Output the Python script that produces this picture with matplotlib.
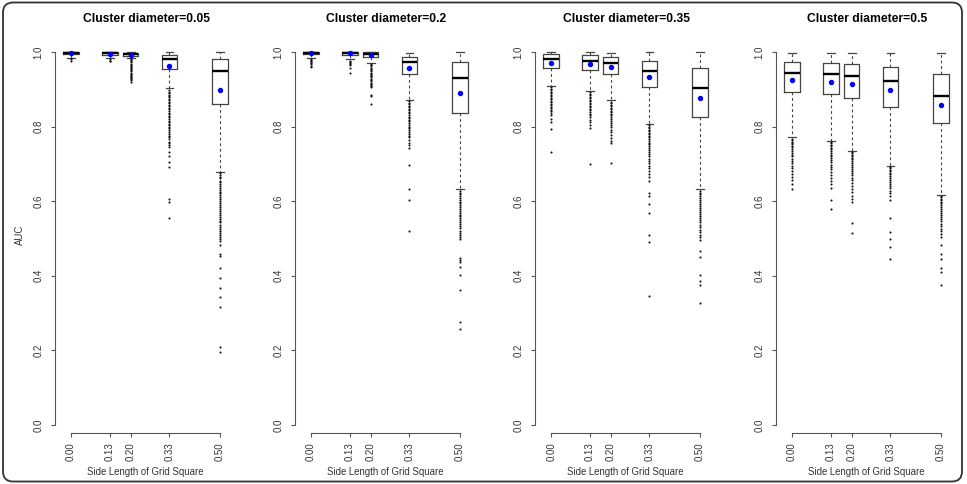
import matplotlib
matplotlib.use('Agg')
import matplotlib.pyplot as plt
from matplotlib.patches import FancyBboxPatch

plt.rcParams['font.family'] = ['Liberation Sans', 'DejaVu Sans']

positions = [0.00, 0.13, 0.20, 0.33, 0.50]
tick_labels = ['0.00', '0.13', '0.20', '0.33', '0.50']
diameters = ['0.05', '0.2', '0.35', '0.5']
yticks = [0.0, 0.2, 0.4, 0.6, 0.8, 1.0]
ytick_labels = ['0.0', '0.2', '0.4', '0.6', '0.8', '1.0']

# cluster diameter = 0.05
lo_005 = [0.984, 0.983, 0.984, 0.903, 0.679]
q1_005 = [0.994, 0.993, 0.990, 0.955, 0.861]
med_005 = [0.997, 0.997, 0.995, 0.980, 0.949]
q3_005 = [0.999, 0.999, 0.998, 0.993, 0.980]
hi_005 = [1.000, 1.000, 1.000, 0.999, 1.000]
mean_005 = [0.996, 0.995, 0.993, 0.962, 0.898]
out_005 = [
    [0.983, 0.980, 0.977],
    [0.980, 0.977, 0.975],
    [0.981, 0.978, 0.975, 0.972, 0.969, 0.966, 0.963, 0.960, 0.957, 0.954, 0.951,
     0.948, 0.945, 0.942, 0.939, 0.936, 0.933, 0.930, 0.927, 0.924, 0.920],
    [0.898, 0.894, 0.890, 0.886, 0.882, 0.878, 0.874, 0.870, 0.866, 0.862, 0.858,
     0.854, 0.850, 0.846, 0.842, 0.837, 0.833, 0.829, 0.825, 0.821, 0.816, 0.812,
     0.808, 0.803, 0.799, 0.795, 0.790, 0.785, 0.781, 0.776, 0.771, 0.766, 0.760,
     0.755, 0.750, 0.745, 0.733, 0.720, 0.705, 0.692, 0.605, 0.599, 0.554],
    [0.675, 0.670, 0.666, 0.661, 0.655, 0.651, 0.646, 0.640, 0.636, 0.631, 0.625,
     0.621, 0.616, 0.610, 0.606, 0.600, 0.595, 0.590, 0.584, 0.580, 0.574, 0.569,
     0.564, 0.558, 0.553, 0.548, 0.543, 0.537, 0.532, 0.526, 0.521, 0.515, 0.510,
     0.504, 0.498, 0.492, 0.483, 0.458, 0.453, 0.422, 0.395, 0.368, 0.344, 0.316,
     0.210, 0.195],
]

# cluster diameter = 0.2
lo_02 = [0.985, 0.980, 0.971, 0.871, 0.632]
q1_02 = [0.995, 0.991, 0.986, 0.941, 0.836]
med_02 = [0.998, 0.996, 0.994, 0.972, 0.929]
q3_02 = [1.000, 0.999, 0.999, 0.987, 0.972]
hi_02 = [1.000, 1.000, 1.000, 0.998, 0.999]
mean_02 = [0.998, 0.996, 0.993, 0.956, 0.889]
out_02 = [
    [0.982, 0.979, 0.976, 0.973, 0.970, 0.967, 0.963, 0.959],
    [0.977, 0.974, 0.971, 0.968, 0.965, 0.957, 0.945],
    [0.968, 0.965, 0.962, 0.958, 0.955, 0.952, 0.948, 0.945, 0.942, 0.938, 0.935,
     0.932, 0.928, 0.925, 0.921, 0.918, 0.914, 0.911, 0.908, 0.905, 0.886, 0.881,
     0.861],
    [0.868, 0.864, 0.860, 0.856, 0.852, 0.848, 0.844, 0.840, 0.836, 0.831, 0.827,
     0.823, 0.818, 0.814, 0.810, 0.805, 0.800, 0.796, 0.791, 0.786, 0.781, 0.776,
     0.771, 0.764, 0.757, 0.750, 0.742, 0.697, 0.632, 0.603, 0.520],
    [0.628, 0.623, 0.618, 0.614, 0.609, 0.604, 0.599, 0.594, 0.589, 0.584, 0.579,
     0.574, 0.569, 0.564, 0.559, 0.554, 0.549, 0.544, 0.538, 0.533, 0.527, 0.521,
     0.515, 0.509, 0.503, 0.498, 0.447, 0.442, 0.437, 0.424, 0.402, 0.362, 0.277,
     0.257],
]

# cluster diameter = 0.35
lo_035 = [0.909, 0.896, 0.871, 0.807, 0.632]
q1_035 = [0.958, 0.951, 0.941, 0.907, 0.827]
med_035 = [0.981, 0.977, 0.971, 0.949, 0.903]
q3_035 = [0.994, 0.991, 0.987, 0.977, 0.956]
hi_035 = [1.000, 0.999, 0.998, 0.999, 0.999]
mean_035 = [0.971, 0.967, 0.961, 0.932, 0.876]
out_035 = [
    [0.905, 0.901, 0.897, 0.893, 0.889, 0.885, 0.881, 0.877, 0.873, 0.869, 0.865,
     0.861, 0.857, 0.853, 0.849, 0.845, 0.841, 0.836, 0.830, 0.820, 0.812, 0.793,
     0.733],
    [0.892, 0.888, 0.884, 0.880, 0.876, 0.872, 0.868, 0.864, 0.860, 0.856, 0.852,
     0.848, 0.844, 0.840, 0.835, 0.830, 0.825, 0.819, 0.812, 0.805, 0.795, 0.701],
    [0.867, 0.863, 0.859, 0.855, 0.851, 0.847, 0.843, 0.839, 0.835, 0.830, 0.825,
     0.820, 0.815, 0.810, 0.804, 0.798, 0.792, 0.785, 0.777, 0.769, 0.761, 0.755,
     0.703],
    [0.804, 0.800, 0.796, 0.792, 0.788, 0.784, 0.780, 0.776, 0.771, 0.767, 0.762,
     0.757, 0.752, 0.747, 0.742, 0.737, 0.731, 0.726, 0.720, 0.714, 0.708, 0.702,
     0.695, 0.688, 0.680, 0.672, 0.664, 0.655, 0.623, 0.613, 0.592, 0.569, 0.509,
     0.491, 0.346],
    [0.628, 0.623, 0.618, 0.613, 0.608, 0.603, 0.598, 0.593, 0.588, 0.583, 0.577,
     0.572, 0.566, 0.561, 0.555, 0.549, 0.543, 0.537, 0.531, 0.524, 0.517, 0.510,
     0.503, 0.496, 0.467, 0.451, 0.402, 0.387, 0.375, 0.328],
]

# cluster diameter = 0.5
lo_05 = [0.771, 0.762, 0.735, 0.695, 0.617]
q1_05 = [0.893, 0.888, 0.876, 0.853, 0.810]
med_05 = [0.943, 0.940, 0.935, 0.922, 0.882]
q3_05 = [0.974, 0.971, 0.969, 0.959, 0.941]
hi_05 = [0.998, 0.998, 0.998, 0.998, 0.998]
mean_05 = [0.924, 0.920, 0.914, 0.898, 0.859]
out_05 = [
    [0.768, 0.764, 0.760, 0.756, 0.752, 0.748, 0.744, 0.740, 0.735, 0.730, 0.725,
     0.720, 0.714, 0.708, 0.702, 0.695, 0.688, 0.680, 0.672, 0.664, 0.657, 0.647,
     0.632],
    [0.759, 0.755, 0.751, 0.747, 0.743, 0.739, 0.735, 0.730, 0.725, 0.720, 0.715,
     0.710, 0.704, 0.698, 0.692, 0.685, 0.678, 0.670, 0.662, 0.654, 0.645, 0.636,
     0.603, 0.578],
    [0.732, 0.728, 0.724, 0.720, 0.716, 0.712, 0.707, 0.702, 0.697, 0.692, 0.687,
     0.681, 0.675, 0.669, 0.663, 0.656, 0.649, 0.641, 0.633, 0.624, 0.615, 0.606,
     0.599, 0.541, 0.514],
    [0.692, 0.688, 0.684, 0.680, 0.676, 0.672, 0.667, 0.662, 0.657, 0.652, 0.647,
     0.641, 0.635, 0.628, 0.621, 0.613, 0.603, 0.554, 0.517, 0.498, 0.478, 0.444],
    [0.614, 0.610, 0.606, 0.602, 0.598, 0.594, 0.589, 0.584, 0.579, 0.574, 0.569,
     0.564, 0.558, 0.552, 0.546, 0.540, 0.533, 0.526, 0.519, 0.511, 0.503, 0.483,
     0.458, 0.444, 0.420, 0.410, 0.375],
]

panels = [
    (lo_005, q1_005, med_005, q3_005, hi_005, mean_005, out_005),
    (lo_02, q1_02, med_02, q3_02, hi_02, mean_02, out_02),
    (lo_035, q1_035, med_035, q3_035, hi_035, mean_035, out_035),
    (lo_05, q1_05, med_05, q3_05, hi_05, mean_05, out_05),
]

fig = plt.figure(figsize=(9.67, 4.84), dpi=100)
lefts = [0.0569, 0.3051, 0.5533, 0.8025]
edge = '#444444'

for i, (lo, q1, med, q3, hi, mean, out) in enumerate(panels):
    ax = fig.add_axes([lefts[i], 0.1054, 0.1892, 0.818])
    stats = []
    for j in range(len(positions)):
        stats.append(dict(whislo=lo[j], q1=q1[j], med=med[j], q3=q3[j],
                          whishi=hi[j], mean=mean[j], fliers=out[j]))
    ax.bxp(stats, positions=positions, widths=0.052, capwidths=0.026,
           showmeans=True, showfliers=True,
           boxprops=dict(color=edge, lw=0.9),
           medianprops=dict(color='black', lw=1.7),
           whiskerprops=dict(color=edge, lw=0.8, linestyle=(0, (2.5, 2.5))),
           capprops=dict(color=edge, lw=0.9),
           flierprops=dict(marker='o', markersize=1.5, markerfacecolor='#111111',
                           markeredgewidth=0, linestyle='none'),
           meanprops=dict(marker='o', markersize=2.9, markerfacecolor='blue',
                          markeredgecolor='blue'))

    ax.set_xlim(-0.054, 0.56)
    ax.set_ylim(-0.0215, 1.04)
    ax.spines['top'].set_visible(False)
    ax.spines['right'].set_visible(False)
    ax.spines['left'].set_bounds(0, 1)
    ax.spines['bottom'].set_bounds(0, 0.5)
    for s in ['left', 'bottom']:
        ax.spines[s].set_color('#555555')
        ax.spines[s].set_linewidth(0.8)

    ax.set_xticks(positions, tick_labels, rotation=90)
    ax.set_yticks(yticks, ytick_labels, rotation=90, va='center')
    ax.tick_params(direction='out', length=3, width=0.8, color='#555555',
                   labelsize=6.9, labelcolor='#333333')
    ax.tick_params(axis='x', pad=4)
    ax.tick_params(axis='y', pad=5.5)

    ax.set_title(f'Cluster diameter={diameters[i]}', fontsize=8.7,
                 fontweight='bold', pad=10.5)
    ax.set_xlabel('Side Length of Grid Square', fontsize=6.9, color='#333333')
    ax.xaxis.set_label_coords(0.495, -0.085)
    if i == 0:
        ax.set_ylabel('AUC', fontsize=6.9, color='#333333')
        ax.yaxis.set_label_coords(-0.165, 0.5)

frame = FancyBboxPatch((0.03, 0.025), 9.59, 4.79,
                       boxstyle='round,pad=0,rounding_size=0.1',
                       transform=fig.dpi_scale_trans, fill=False,
                       ec='#333333', lw=1.3)
fig.patches.append(frame)

fig.savefig('out.png', dpi=100)
